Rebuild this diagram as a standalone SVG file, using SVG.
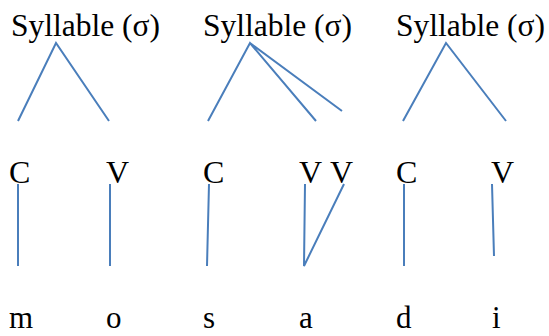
<svg xmlns="http://www.w3.org/2000/svg" width="549" height="336" viewBox="0 0 549 336">
<style>
.s{font-size:31.5px;}
.l{font-size:32px;}
.b{font-size:31px;}
.e{stroke:#4a7ebb;stroke-width:2;fill:none;stroke-linecap:butt;}
</style>
<rect width="549" height="336" fill="#fff"/>
<g font-family="'Liberation Serif', 'DejaVu Serif', serif" fill="#000">
<g id="syl1"><text class="s" x="11" y="36">Syllable (σ)</text></g>
<g id="syl2"><text class="s" x="203" y="36">Syllable (σ)</text></g>
<g id="syl3"><text class="s" x="396" y="36">Syllable (σ)</text></g>
<g id="c1"><text class="l" x="9" y="183">C</text></g>
<g id="v1"><text class="l" x="106" y="183">V</text></g>
<g id="c2"><text class="l" x="203" y="183">C</text></g>
<g id="v2"><text class="l" x="299" y="183">V</text></g>
<g id="v3"><text class="l" x="330" y="183">V</text></g>
<g id="c3"><text class="l" x="396" y="183">C</text></g>
<g id="v4"><text class="l" x="491" y="183">V</text></g>
<g id="m"><text class="b" x="9" y="328">m</text></g>
<g id="o"><text class="b" x="106" y="328">o</text></g>
<g id="s"><text class="b" x="203" y="328">s</text></g>
<g id="a"><text class="b" x="299" y="328">a</text></g>
<g id="d"><text class="b" x="396" y="328">d</text></g>
<g id="i"><text class="b" x="492" y="328">i</text></g>
</g>
<g id="connectors" class="e">
<path d="M18 121L56 43L109 121"/>
<path d="M208 121L250 43L316 121M250 43L342 111"/>
<path d="M403 121L446 43L506 121"/>
<path d="M18 184V266M110 184V266M209 184L207 266M305 184L304 266L344 184M404 184V266M492 184L494 256"/>
</g>
</svg>
